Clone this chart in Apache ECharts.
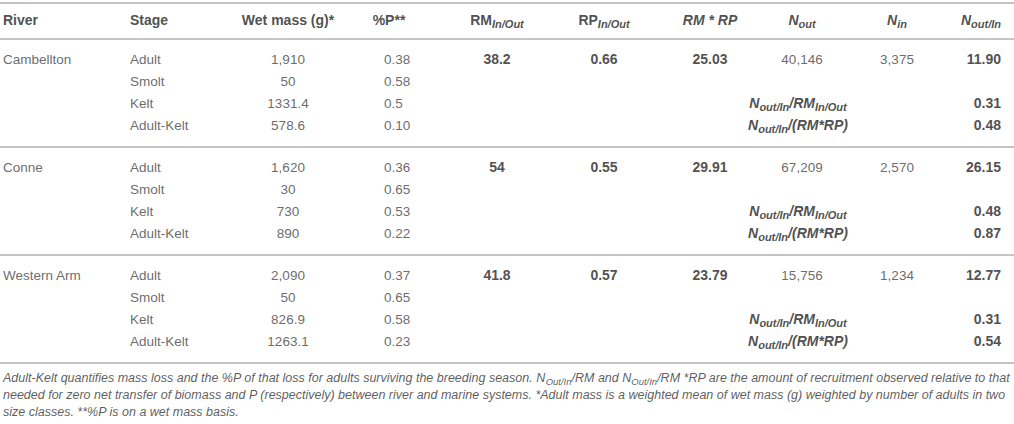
<!DOCTYPE html>
<html lang="en">
<head>
  <meta charset="UTF-8">
  <title>River table</title>
  <style>
    body { margin: 0; padding: 0; background: #fff; }
    #chart { width: 1014px; height: 424px; }
  </style>
  <script src="https://cdn.jsdelivr.net/npm/echarts@6/dist/echarts.min.js"></script>
</head>
<body>
  <div id="chart"></div>
  <script>
    // table content
    const rivers = ['Cambellton', 'Conne', 'Western Arm'];
    const stages = ['Adult', 'Smolt', 'Kelt', 'Adult-Kelt'];
    const wetMass = [['1,910', '50', '1331.4', '578.6'], ['1,620', '30', '730', '890'], ['2,090', '50', '826.9', '1263.1']];
    const pctP = [['0.38', '0.58', '0.5', '0.10'], ['0.36', '0.65', '0.53', '0.22'], ['0.37', '0.65', '0.58', '0.23']];
    const rmInOut = ['38.2', '54', '41.8'];
    const rpInOut = ['0.66', '0.55', '0.57'];
    const rmRp = ['25.03', '29.91', '23.79'];
    const nOut = ['40,146', '67,209', '15,756'];
    const nIn = ['3,375', '2,570', '1,234'];
    const nOutIn = ['11.90', '26.15', '12.77'];
    const nOverRm = ['0.31', '0.48', '0.31'];
    const nOverRmRp = ['0.48', '0.87', '0.54'];

    const headers = ['{b|River}', '{b|Stage}', '{b|Wet mass (g)*}', '{b|%P**}', '{b|RM}{bs|In/Out}',
      '{b|RP}{bs|In/Out}', '{bi|RM * RP}', '{bi|N}{bis|out}', '{bi|N}{bis|in}', '{bi|N}{bis|out/In}'];
    const ratioLabels = ['{bi|N}{bis|out/In}{bi|/RM}{bis|In/Out}', '{bi|N}{bis|out/In}{bi|/(RM*RP)}'];
    const footnote = [
      '{i|Adult-Kelt quantifies mass loss and the %P of that loss for adults surviving the breeding season. N}{is|Out/In}{i|/RM and N}{is|Out/In}{i|/RM *RP are the amount of recruitment observed relative to that}',
      '{i|needed for zero net transfer of biomass and P (respectively) between river and marine systems. *Adult mass is a weighted mean of wet mass (g) weighted by number of adults in two}',
      '{i|size classes. **%P is on a wet mass basis.}'
    ];

    // layout
    const headerY = 20, firstRowY = 59, rowGap = 22, sectionGap = 108;
    const ruleYs = [3, 39, 147, 255, 363];
    const footY = [378, 395, 412];
    const rowY = (s, i) => firstRowY + s * sectionGap + i * rowGap;

    const narrow = '"Liberation Sans Narrow", "Liberation Sans", sans-serif';
    const rich = {
      r: { fontSize: 13.5, color: '#444', lineHeight: 18 },
      b: { fontSize: 14, fontWeight: 'bold', color: '#222', lineHeight: 18 },
      bs: { fontSize: 11, fontWeight: 'bold', fontStyle: 'italic', color: '#222', lineHeight: 10, verticalAlign: 'bottom' },
      bi: { fontSize: 14, fontWeight: 'bold', fontStyle: 'italic', color: '#222', lineHeight: 18 },
      bis: { fontSize: 11, fontWeight: 'bold', fontStyle: 'italic', color: '#222', lineHeight: 10, verticalAlign: 'bottom' },
      i: { fontSize: 12.5, fontStyle: 'italic', color: '#333', lineHeight: 16, fontFamily: narrow },
      is: { fontSize: 9.5, fontStyle: 'italic', color: '#333', lineHeight: 9, verticalAlign: 'bottom', fontFamily: narrow }
    };

    // one scatter series per column, points carry the cell text
    function column(name, x, align, cells) {
      const pos = align === 'left' ? 'right' : align === 'right' ? 'left' : 'inside';
      return {
        name: name,
        type: 'scatter',
        symbolSize: 0,
        silent: true,
        data: cells.map(c => [x, c[0], c[1]]),
        label: {
          show: true,
          position: pos,
          distance: 0,
          fontFamily: '"Liberation Sans", Arial, sans-serif',
          formatter: p => p.data[2],
          rich: rich
        }
      };
    }

    const bold = v => '{b|' + v + '}';
    const reg = v => '{r|' + v + '}';

    const riverCells = [[headerY, headers[0]]], stageCells = [[headerY, headers[1]]];
    const massCells = [[headerY, headers[2]]], pCells = [], rmCells = [[headerY, headers[4]]];
    const rpCells = [[headerY, headers[5]]], rmRpCells = [[headerY, headers[6]]];
    const nOutCells = [[headerY, headers[7]]], nInCells = [[headerY, headers[8]]];
    const nOutInCells = [[headerY, headers[9]]], ratioCells = [];
    rivers.forEach((r, s) => {
      riverCells.push([rowY(s, 0), reg(r)]);
      stages.forEach((st, i) => {
        stageCells.push([rowY(s, i), reg(st)]);
        massCells.push([rowY(s, i), reg(wetMass[s][i])]);
        pCells.push([rowY(s, i), reg(pctP[s][i])]);
      });
      rmCells.push([rowY(s, 0), bold(rmInOut[s])]);
      rpCells.push([rowY(s, 0), bold(rpInOut[s])]);
      rmRpCells.push([rowY(s, 0), bold(rmRp[s])]);
      nOutCells.push([rowY(s, 0), reg(nOut[s])]);
      nInCells.push([rowY(s, 0), reg(nIn[s])]);
      nOutInCells.push([rowY(s, 0), bold(nOutIn[s])]);
      nOutInCells.push([rowY(s, 2), bold(nOverRm[s])]);
      nOutInCells.push([rowY(s, 3), bold(nOverRmRp[s])]);
      ratioCells.push([rowY(s, 2), ratioLabels[0]]);
      ratioCells.push([rowY(s, 3), ratioLabels[1]]);
    });

    const chart = echarts.init(document.getElementById('chart'), null, { renderer: 'svg' });
    const option = {
      animation: false,
      grid: { left: 0, right: 0, top: 0, bottom: 0 },
      xAxis: { type: 'value', min: 0, max: 1014, show: false },
      yAxis: { type: 'value', min: 0, max: 424, inverse: true, show: false },
      series: [
        Object.assign(column('River', 3, 'left', riverCells), {
          markLine: {
            silent: true,
            symbol: 'none',
            label: { show: false },
            lineStyle: { color: '#c4c4c4', width: 2, type: 'solid' },
            data: ruleYs.map(y => ({ yAxis: y }))
          }
        }),
        column('Stage', 130, 'left', stageCells),
        column('Wet mass', 288, 'center', massCells),
        column('%P header', 389, 'center', [[headerY, headers[3]]]),
        column('%P', 384, 'left', pCells),
        column('RM', 497, 'center', rmCells),
        column('RP', 604, 'center', rpCells),
        column('RM*RP', 710, 'center', rmRpCells),
        column('Nout', 802, 'center', nOutCells),
        column('Nin', 897, 'center', nInCells),
        column('Nout/In', 1001, 'right', nOutInCells),
        column('Ratios', 798, 'center', ratioCells),
        column('Footnote', 3, 'left', footnote.map((t, k) => [footY[k], t]))
      ]
    };
    chart.setOption(option);
  </script>
</body>
</html>
